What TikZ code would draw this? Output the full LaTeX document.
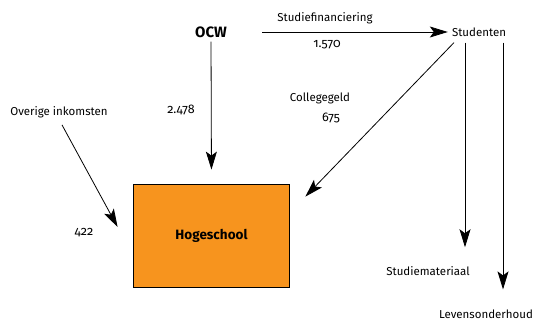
\documentclass[tikz,border=0pt]{standalone}
\usepackage{fontspec}
\setmainfont[Numbers=OldStyle]{Fira Sans}
\usepackage{tikz}
\definecolor{hsorange}{RGB}{247, 148, 30}
\usetikzlibrary{arrows.meta, positioning, calc}

\begin{document}
\begin{tikzpicture}[
    x=1pt, y=-1pt,
    lbl/.style={inner sep=1pt, font=\fontsize{11.5}{13}\selectfont},
    num/.style={inner sep=1pt, font=\fontsize{12.5}{14}\selectfont},
    box/.style={rectangle, draw=black, line width=1.8pt, fill=hsorange, minimum width=156pt, minimum height=103pt, align=center, font=\fontsize{13.5}{15}\selectfont\bfseries},
    arrow/.style={-{Stealth[length=18pt, width=11pt, inset=4pt]}, line width=0.8pt}
]
    \useasboundingbox (0,0) rectangle (534,320);

    % actors
    \node[lbl, font=\fontsize{15}{17}\selectfont\bfseries] (ocw) at (211,32) {OCW};
    \node[lbl] (stud) at (479,32) {Studenten};
    \node[box] (hs) at (211.5,236) {Hogeschool};
    \node[lbl] (overig) at (59,112) {Overige inkomsten};
    \node[lbl] (mat) at (428,271) {Studiemateriaal};
    \node[lbl] (leven) at (486,314) {Levensonderhoud};

    % amounts
    \node[lbl] (sflbl) at (325,18) {Studiefinanciering};
    \node[num] (sfval) at (327,45) {1.570};
    \node[num] (ocwval) at (181,110) {2.478};
    \node[lbl] (cglbl) at (320,98) {Collegegeld};
    \node[num] (cgval) at (331,118) {675};
    \node[num] (oival) at (84,233) {422};

    % flows
    \draw[arrow, shorten <=34pt, shorten >=3pt] (ocw.east) -- (stud.west);
    \draw[arrow, shorten <=3pt, shorten >=14pt] (ocw.south) -- (hs.north);
    \draw[arrow] ([xshift=3pt, yshift=-6pt]overig.south) -- ([xshift=-15pt, yshift=9pt]hs.west);
    \draw[arrow] ([xshift=-25pt, yshift=-5pt]stud.south) -- ([xshift=15pt, yshift=-13pt]hs.north east);
    \draw[arrow, shorten >=18pt] ([xshift=-14pt, yshift=-5pt]stud.south) -- ([xshift=37pt]mat.north);
    \draw[arrow, shorten >=19pt] ([xshift=24pt, yshift=-5pt]stud.south) -- ([xshift=17pt]leven.north);
\end{tikzpicture}
\end{document}
